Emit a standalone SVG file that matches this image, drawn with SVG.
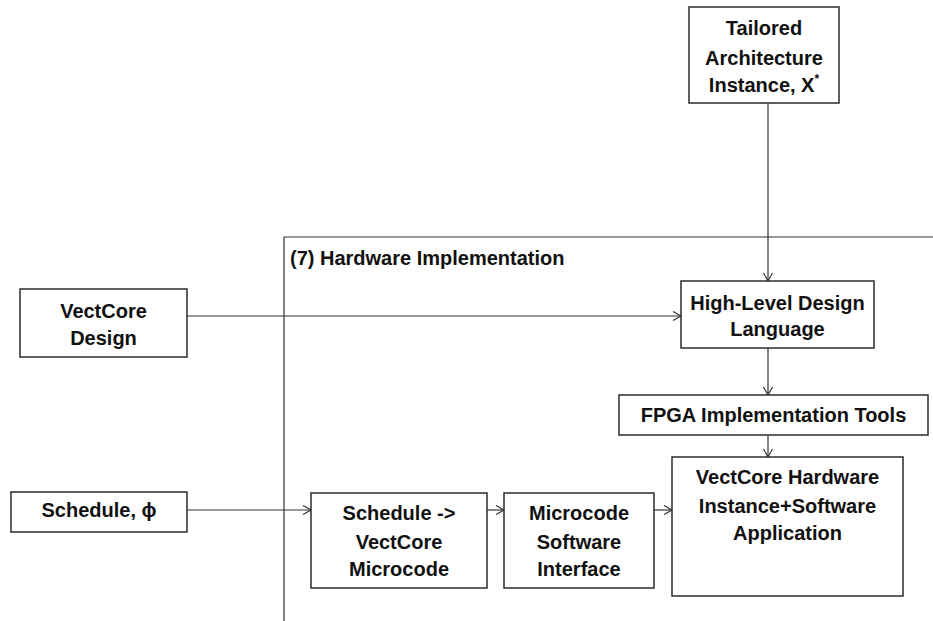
<svg xmlns="http://www.w3.org/2000/svg" width="933" height="621" viewBox="0 0 933 621">
  <style>
    .box { fill: #ffffff; stroke: #2b2b2b; stroke-width: 1.5; }
    .lbl { font-family: "Liberation Sans", Arial, sans-serif; font-weight: bold; font-size: 20px; fill: #111111; text-anchor: middle; }
    .frame-lbl { text-anchor: start; }
    .conn { fill: none; stroke: #333333; stroke-width: 1.2; marker-end: url(#arrow); }
    .conn-plain { fill: none; stroke: #333333; stroke-width: 1.2; }
  </style>
  <defs>
    <marker id="arrow" markerUnits="userSpaceOnUse" markerWidth="12" markerHeight="12" refX="9" refY="5" orient="auto">
      <path d="M1,0.5 L9,5 L1,9.5" fill="none" stroke="#333333" stroke-width="1.2"/>
    </marker>
  </defs>
  <rect width="933" height="621" fill="#ffffff"/>

  <!-- enclosing stage frame (open to the right and bottom) -->
  <g id="stage-hardware">
    <polyline points="933,237 284,237 284,621" class="conn-plain" stroke-width="1.3"/>
    <text class="lbl frame-lbl" x="290" y="265">(7) Hardware Implementation</text>
  </g>

  <g id="connectors">
    <line class="conn" x1="768" y1="103" x2="768" y2="281"/>
    <line class="conn" x1="187" y1="316" x2="681" y2="316"/>
    <line class="conn" x1="768" y1="348" x2="768" y2="395"/>
    <line class="conn" x1="768" y1="435" x2="768" y2="457"/>
    <line class="conn" x1="187" y1="510" x2="311" y2="510"/>
    <line class="conn" x1="487" y1="510" x2="504" y2="510"/>
    <line class="conn" x1="654" y1="510" x2="672" y2="510"/>
  </g>

  <g id="tailored-architecture">
    <rect class="box" x="689" y="7" width="150" height="96"/>
    <text class="lbl" x="764" y="35">Tailored</text>
    <text class="lbl" x="764" y="65">Architecture</text>
    <text class="lbl" x="764" y="92">Instance, X<tspan dy="-9" font-size="12">*</tspan></text>
  </g>

  <g id="vectcore-design">
    <rect class="box" x="20" y="289" width="167" height="68"/>
    <text class="lbl" x="103.5" y="318">VectCore</text>
    <text class="lbl" x="103.5" y="345">Design</text>
  </g>

  <g id="schedule-phi">
    <rect class="box" x="11" y="492" width="176" height="40"/>
    <text class="lbl" x="99" y="517">Schedule, ϕ</text>
  </g>

  <g id="high-level-design-language">
    <rect class="box" x="681" y="281" width="193" height="67"/>
    <text class="lbl" x="777.5" y="310">High-Level Design</text>
    <text class="lbl" x="777.5" y="336">Language</text>
  </g>

  <g id="fpga-tools">
    <rect class="box" x="619" y="395" width="309" height="40"/>
    <text class="lbl" x="773.5" y="422">FPGA Implementation Tools</text>
  </g>

  <g id="schedule-to-microcode">
    <rect class="box" x="311" y="493" width="176" height="95"/>
    <text class="lbl" x="399" y="520">Schedule -&gt;</text>
    <text class="lbl" x="399" y="549">VectCore</text>
    <text class="lbl" x="399" y="576">Microcode</text>
  </g>

  <g id="microcode-software-interface">
    <rect class="box" x="504" y="493" width="150" height="95"/>
    <text class="lbl" x="579" y="520">Microcode</text>
    <text class="lbl" x="579" y="549">Software</text>
    <text class="lbl" x="579" y="576">Interface</text>
  </g>

  <g id="vectcore-hardware-instance">
    <rect class="box" x="672" y="457" width="231" height="139"/>
    <text class="lbl" x="787.5" y="484">VectCore Hardware</text>
    <text class="lbl" x="787.5" y="513">Instance+Software</text>
    <text class="lbl" x="787.5" y="540">Application</text>
  </g>
</svg>
